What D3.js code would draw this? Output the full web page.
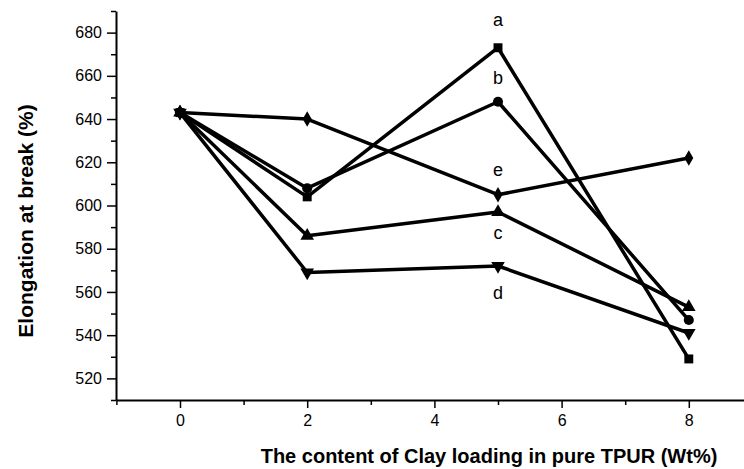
<!DOCTYPE html>
<html>
<head>
<meta charset="utf-8">
<script src="https://cdn.jsdelivr.net/npm/d3@7"></script>
<style>
  body { margin: 0; background: #fff; }
  svg { display: block; font-family: 'Liberation Sans', Arial, sans-serif; }
</style>
</head>
<body>
<div id="chart"></div>
<script>
// clay loading (wt%) on x
var loading = [0, 2, 5, 8]

// elongation at break (%) for each curve
var seriesA = [643, 604, 673, 529]
var seriesB = [643, 608, 648, 547]
var seriesC = [643, 586, 597, 553]
var seriesD = [643, 569, 572, 541]
var seriesE = [643, 640, 605, 622]

var seriesNames = ['a', 'b', 'c', 'd', 'e']
var seriesSymbols = ['square', 'circle', 'up', 'down', 'diamond']
var seriesValues = [seriesA, seriesB, seriesC, seriesD, seriesE]

// where the letter label sits (value units, at x = 5)
var labelY = [686, 659, 587.5, 559.5, 616.5]

var xTicks = [0, 2, 4, 6, 8]
var yTicks = [520, 540, 560, 580, 600, 620, 640, 660, 680]

var W = 744
var H = 469

var svg = d3.select('#chart')
  .append('svg')
  .attr('width', W)
  .attr('height', H)

var x = d3.scaleLinear().domain([-1, 9]).range([116.4, 752.4])
var y = d3.scaleLinear().domain([510, 690]).range([400, 11])

// minor ticks first
svg.append('g')
  .attr('transform', 'translate(0,400)')
  .call(d3.axisBottom(x).tickValues([-1, 1, 3, 5, 7, 9]).tickSize(5).tickFormat(''))
  .call(function (g) { g.select('.domain').remove() })
  .selectAll('line').attr('stroke-width', 1.5)

svg.append('g')
  .attr('transform', 'translate(116,0)')
  .call(d3.axisLeft(y).tickValues(d3.range(510, 691, 20)).tickSize(5).tickFormat(''))
  .call(function (g) { g.select('.domain').remove() })
  .selectAll('line').attr('stroke-width', 1.5)

// x axis
var xAxis = svg.append('g')
  .attr('transform', 'translate(0,400)')
  .call(d3.axisBottom(x).tickValues(xTicks).tickSize(8).tickSizeOuter(0).tickPadding(7))
xAxis.select('.domain').attr('stroke-width', 2)
xAxis.selectAll('line').attr('stroke-width', 1.5)
xAxis.selectAll('text').attr('font-size', 16).attr('fill', '#000')
  .attr('font-family', "'Liberation Sans', Arial, sans-serif")

// y axis
var yAxis = svg.append('g')
  .attr('transform', 'translate(116,0)')
  .call(d3.axisLeft(y).tickValues(yTicks).tickSize(9).tickSizeOuter(0).tickPadding(5))
yAxis.select('.domain').attr('stroke-width', 2)
yAxis.selectAll('line').attr('stroke-width', 1.5)
yAxis.selectAll('text').attr('font-size', 16).attr('fill', '#000')
  .attr('font-family', "'Liberation Sans', Arial, sans-serif")

// axis titles
svg.append('text')
  .attr('x', 489)
  .attr('y', 463)
  .attr('text-anchor', 'middle')
  .attr('font-size', 20)
  .attr('font-weight', 'bold')
  .text('The content of Clay loading in pure TPUR (Wt%)')

svg.append('text')
  .attr('transform', 'translate(33,221) rotate(-90)')
  .attr('text-anchor', 'middle')
  .attr('font-size', 21)
  .attr('font-weight', 'bold')
  .text('Elongation at break (%)')

// lines
var line = d3.line()
  .x(function (d, i) { return x(loading[i]) })
  .y(function (d) { return y(d) })

svg.selectAll('.curve')
  .data(seriesValues)
  .enter()
  .append('path')
  .attr('class', 'curve')
  .attr('d', line)
  .attr('fill', 'none')
  .attr('stroke', '#000')
  .attr('stroke-width', 3.5)
  .attr('stroke-linejoin', 'round')

// markers
var symbolType = {
  square: d3.symbolSquare,
  circle: d3.symbolCircle,
  up: d3.symbolTriangle,
  down: d3.symbolTriangle,
  diamond: d3.symbolDiamond
}

seriesValues.forEach(function (vals, s) {
  var sym = seriesSymbols[s]
  svg.selectAll('.m' + s)
    .data(vals)
    .enter()
    .append('path')
    .attr('class', 'm' + s)
    .attr('d', d3.symbol().type(symbolType[sym]).size(sym === 'diamond' ? 70 : 80))
    .attr('transform', function (d, i) {
      var t = 'translate(' + x(loading[i]) + ',' + y(d) + ')'
      if (sym === 'down') t += ' rotate(180)'
      return t
    })
    .attr('fill', '#000')
})

// letter labels
svg.selectAll('.lbl')
  .data(seriesNames)
  .enter()
  .append('text')
  .attr('class', 'lbl')
  .attr('x', x(5))
  .attr('y', function (d, i) { return y(labelY[i]) })
  .attr('dy', '0.35em')
  .attr('text-anchor', 'middle')
  .attr('font-size', 18)
  .text(function (d) { return d })
</script>
</body>
</html>
